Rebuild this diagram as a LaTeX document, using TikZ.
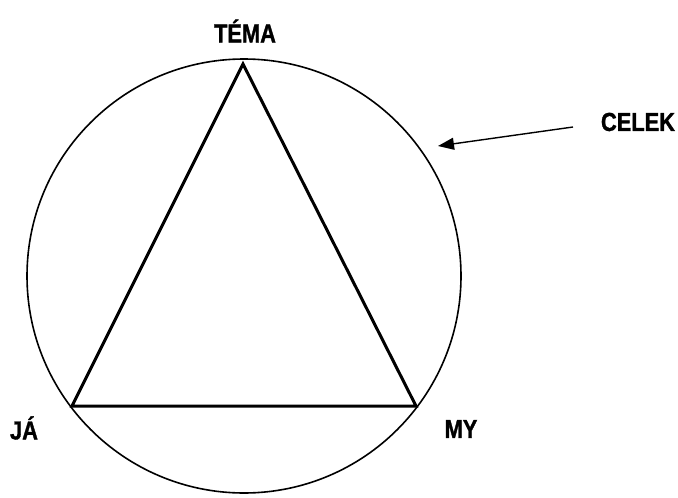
\documentclass[tikz,border=0pt]{standalone}
\usepackage{fontspec}
\newfontfamily\labelfont[FakeStretch=0.84,FakeBold=1.2]{Liberation Sans}
\usetikzlibrary{arrows.meta}

\begin{document}
\begin{tikzpicture}[x=1pt,y=-1pt,
  lbl/.style={font=\labelfont\bfseries\fontsize{26}{30}\selectfont, inner sep=0pt}]
  \useasboundingbox (0,0) rectangle (678,498);
  % Whole
  \draw[line width=1.6pt] (244,276) circle (217);
  % Triangle corners
  \coordinate (top) at (243,64);
  \coordinate (left) at (72,406);
  \coordinate (right) at (416,406);
  \draw[line width=3pt, line join=miter] (top) -- (left) -- (right) -- cycle;
  % Labels
  \node[lbl] (tema) at (245,31) {TÉMA};
  \node[lbl] (celek) at (638,122) {CELEK};
  \node[lbl] (ja) at (24,428) {JÁ};
  \node[lbl] (my) at (461,429) {MY};
  % Arrow to the circle
  \coordinate (tail) at (573,127);
  \coordinate (head) at (438,146);
  \draw[line width=1.4pt, -{Triangle[length=16pt,width=12pt]}] (tail) -- (head);
\end{tikzpicture}
\end{document}
